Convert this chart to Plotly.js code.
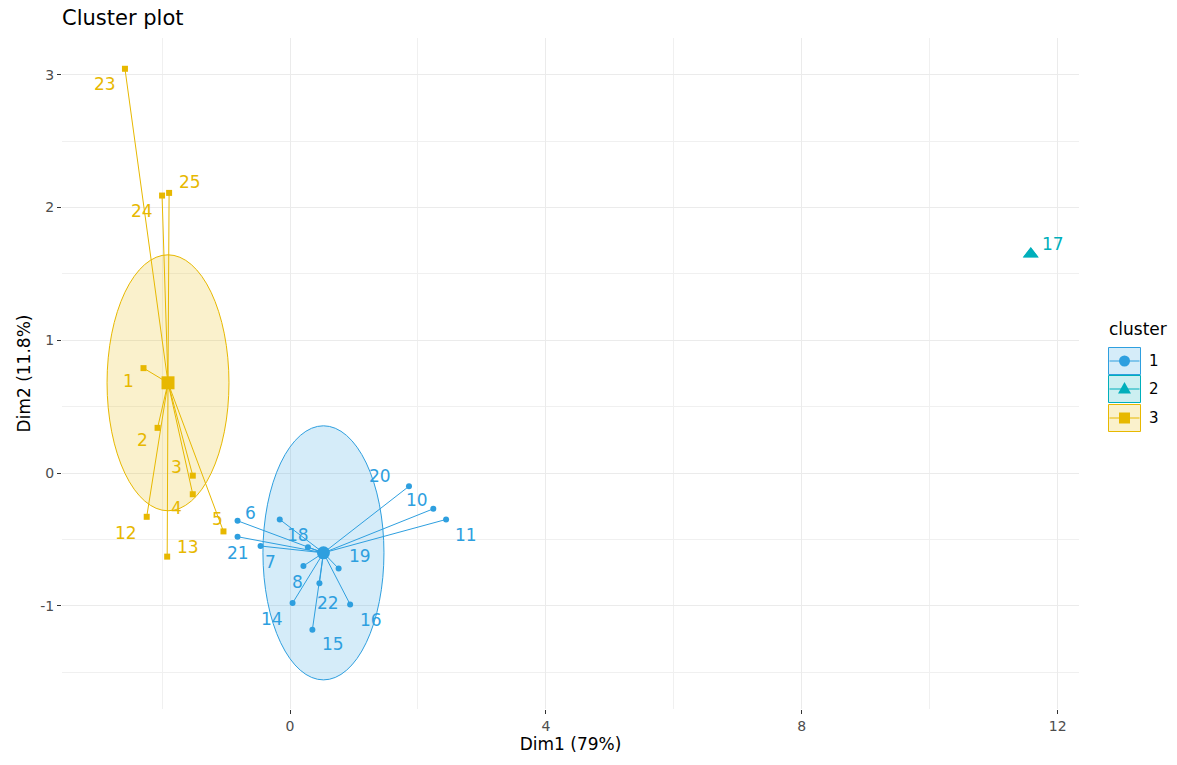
<!DOCTYPE html>
<html>
<head>
<meta charset="utf-8">
<script src="https://cdn.plot.ly/plotly-3.0.1.min.js"></script>
<style>html,body{margin:0;padding:0;background:#fff;}#chart{width:1177px;height:765px;}</style>
</head>
<body>
<div id="chart"></div>
<script>
// ---- data ----
const clusterNames = ["1", "2", "3"];
const clusterColors = ["#2E9FDF", "#00AFBB", "#E7B800"];
const clusterFills = ["rgba(46,159,223,0.2)", "rgba(0,175,187,0.2)", "rgba(231,184,0,0.2)"];
const clusterSymbols = ["circle", "triangle-up", "square"];

const c1Ids = ["6", "7", "8", "9", "10", "11", "14", "15", "16", "18", "19", "20", "21", "22"];
const c1X = [-0.82, -0.46, 0.21, 0.28, 2.24, 2.44, 0.04, 0.35, 0.94, -0.16, 0.76, 1.86, -0.82, 0.46];
const c1Y = [-0.36, -0.55, -0.70, -0.56, -0.27, -0.35, -0.98, -1.18, -0.99, -0.35, -0.72, -0.10, -0.48, -0.83];
const c1LabelX = [-0.61, -0.30, 0.11, null, 1.99, 2.75, -0.28, 0.67, 1.27, 0.125, 1.09, 1.41, -0.81, 0.59];
const c1LabelY = [-0.30, -0.67, -0.82, null, -0.20, -0.47, -1.10, -1.29, -1.11, -0.47, -0.625, -0.02, -0.60, -0.98];

const c2Ids = ["17"];
const c2X = [11.58];
const c2Y = [1.65];
const c2LabelX = [11.93];
const c2LabelY = [1.725];

const c3Ids = ["1", "2", "3", "4", "5", "12", "13", "23", "24", "25"];
const c3X = [-2.29, -2.07, -1.52, -1.52, -1.04, -2.24, -1.92, -2.58, -2.00, -1.89];
const c3Y = [0.79, 0.34, -0.02, -0.16, -0.44, -0.33, -0.63, 3.045, 2.09, 2.11];
const c3LabelX = [-2.53, -2.31, -1.78, -1.78, -1.14, -2.56, -1.59, -2.89, -2.31, -1.56];
const c3LabelY = [0.69, 0.25, 0.045, -0.26, -0.35, -0.45, -0.56, 2.93, 1.97, 2.19];

// ellipse half-axes (Dim1, Dim2) per cluster; null = no ellipse
const ellipseRX = [0.946, null, 0.953];
const ellipseRY = [0.957, null, 0.964];

const xTickVals = [0, 4, 8, 12];
const yTickVals = [-1, 0, 1, 2, 3];
const xTitle = "Dim1 (79%)";
const yTitle = "Dim2 (11.8%)";
const chartTitle = "Cluster plot";
const legendTitle = "cluster";

// ---- build ----
const clusters = [
  {ids: c1Ids, x: c1X, y: c1Y, lx: c1LabelX, ly: c1LabelY},
  {ids: c2Ids, x: c2X, y: c2Y, lx: c2LabelX, ly: c2LabelY},
  {ids: c3Ids, x: c3X, y: c3Y, lx: c3LabelX, ly: c3LabelY}
];
const mean = a => a.reduce((s, v) => s + v, 0) / a.length;

const traces = [];
const shapes = [];
const annotations = [];
const FONT = "DejaVu Sans, Liberation Sans, Arial, sans-serif";

clusters.forEach((c, i) => {
  const cx = mean(c.x), cy = mean(c.y);
  c.cx = cx; c.cy = cy;
  if (ellipseRX[i] !== null) {
    shapes.push({type: "circle", xref: "x", yref: "y", layer: "between",
      x0: cx - ellipseRX[i], x1: cx + ellipseRX[i], y0: cy - ellipseRY[i], y1: cy + ellipseRY[i],
      fillcolor: clusterFills[i], line: {color: clusterColors[i], width: 1}});
  }
});

clusters.forEach((c, i) => {
  // segments to centroid
  const sx = [], sy = [];
  c.x.forEach((v, k) => { sx.push(v, c.cx, null); sy.push(c.y[k], c.cy, null); });
  traces.push({x: sx, y: sy, mode: "lines", type: "scatter", hoverinfo: "skip",
    line: {color: clusterColors[i], width: 1}, showlegend: false});
});
clusters.forEach((c, i) => {
  traces.push({x: c.x, y: c.y, text: c.ids, mode: "markers", type: "scatter",
    marker: {color: clusterColors[i], symbol: clusterSymbols[i], size: i === 1 ? 14 : 6},
    showlegend: false});
  traces.push({x: [c.cx], y: [c.cy], mode: "markers", type: "scatter", hoverinfo: "skip",
    marker: {color: clusterColors[i], symbol: clusterSymbols[i], size: 13}, showlegend: false});
  c.ids.forEach((id, k) => {
    if (c.lx[k] === null) return;
    annotations.push({x: c.lx[k], y: c.ly[k], xref: "x", yref: "y", text: id, showarrow: false,
      font: {family: FONT, size: 17, color: clusterColors[i]}, xanchor: "center", yanchor: "middle"});
  });
});

// ---- custom legend (ggplot style keys) ----
const L = 62, R = 1079, T = 38, B = 709;
const px2x = p => (p - L) / (R - L);
const px2y = p => (B - p) / (B - T);
const keyCx = 1124.5, keyW = 32, keyH = 27;
const keyCy = [361, 389, 418];
annotations.push({xref: "paper", yref: "paper", x: px2x(1107), y: px2y(329), xanchor: "left", yanchor: "middle",
  text: legendTitle, showarrow: false, font: {family: FONT, size: 17, color: "#000"}});
clusterNames.forEach((n, i) => {
  const ax = px2x(keyCx), ay = px2y(keyCy[i]);
  const base = {xref: "paper", yref: "paper", xsizemode: "pixel", ysizemode: "pixel", xanchor: ax, yanchor: ay};
  shapes.push(Object.assign({type: "rect", x0: -keyW / 2, x1: keyW / 2, y0: -keyH / 2, y1: keyH / 2,
    fillcolor: clusterFills[i], line: {color: clusterColors[i], width: 1}}, base));
  shapes.push(Object.assign({type: "line", x0: -keyW / 2 + 1, x1: keyW / 2 - 1, y0: 0, y1: 0,
    line: {color: clusterColors[i], width: 1}}, base));
  if (i === 0) shapes.push(Object.assign({type: "circle", x0: -5.5, x1: 5.5, y0: -5.5, y1: 5.5,
    fillcolor: clusterColors[i], line: {color: clusterColors[i], width: 0}}, base));
  if (i === 1) shapes.push(Object.assign({type: "path", path: "M -6.5,-4.5 L 6.5,-4.5 L 0,7 Z",
    fillcolor: clusterColors[i], line: {color: clusterColors[i], width: 0}}, base));
  if (i === 2) shapes.push(Object.assign({type: "rect", x0: -5.5, x1: 5.5, y0: -5.5, y1: 5.5,
    fillcolor: clusterColors[i], line: {color: clusterColors[i], width: 0}}, base));
  annotations.push({xref: "paper", yref: "paper", x: px2x(1154), y: px2y(keyCy[i]), xanchor: "center", yanchor: "middle",
    text: n, showarrow: false, font: {family: FONT, size: 15, color: "#000"}});
});

const layout = {
  width: 1177, height: 765,
  margin: {l: L, r: 1177 - R, t: T, b: 765 - B, pad: 0},
  paper_bgcolor: "#fff", plot_bgcolor: "#fff",
  showlegend: false,
  title: {text: chartTitle, x: 0, xref: "paper", xanchor: "left", y: 1 - 18 / 765, yref: "container", yanchor: "middle",
    font: {family: FONT, size: 21, color: "#000"}},
  xaxis: {range: [(L - 290) / 63.97, (R - 290) / 63.97], tickvals: xTickVals, ticktext: xTickVals.map(String),
    showgrid: true, gridcolor: "#ebebeb", gridwidth: 1, zeroline: false, showline: false,
    ticks: "outside", ticklen: 4, tickcolor: "#333", tickwidth: 1,
    minor: {dtick: 2, tick0: 0, showgrid: true, gridcolor: "#f0f0f0", gridwidth: 1, ticks: ""},
    tickfont: {family: FONT, size: 14, color: "#4d4d4d"},
    title: {text: xTitle, font: {family: FONT, size: 17, color: "#000"}, standoff: 5}},
  yaxis: {range: [(473 - B) / 132.75, (473 - T) / 132.75], tickvals: yTickVals, ticktext: yTickVals.map(String),
    showgrid: true, gridcolor: "#ebebeb", gridwidth: 1, zeroline: false, showline: false,
    ticks: "outside", ticklen: 4, tickcolor: "#333", tickwidth: 1,
    minor: {dtick: 0.5, tick0: 0, showgrid: true, gridcolor: "#f0f0f0", gridwidth: 1, ticks: ""},
    tickfont: {family: FONT, size: 14, color: "#4d4d4d"},
    title: {text: yTitle, font: {family: FONT, size: 17, color: "#000"}, standoff: 5}},
  shapes: shapes,
  annotations: annotations
};

Plotly.newPlot("chart", traces, layout, {displayModeBar: false, staticPlot: true});
</script>
</body>
</html>
